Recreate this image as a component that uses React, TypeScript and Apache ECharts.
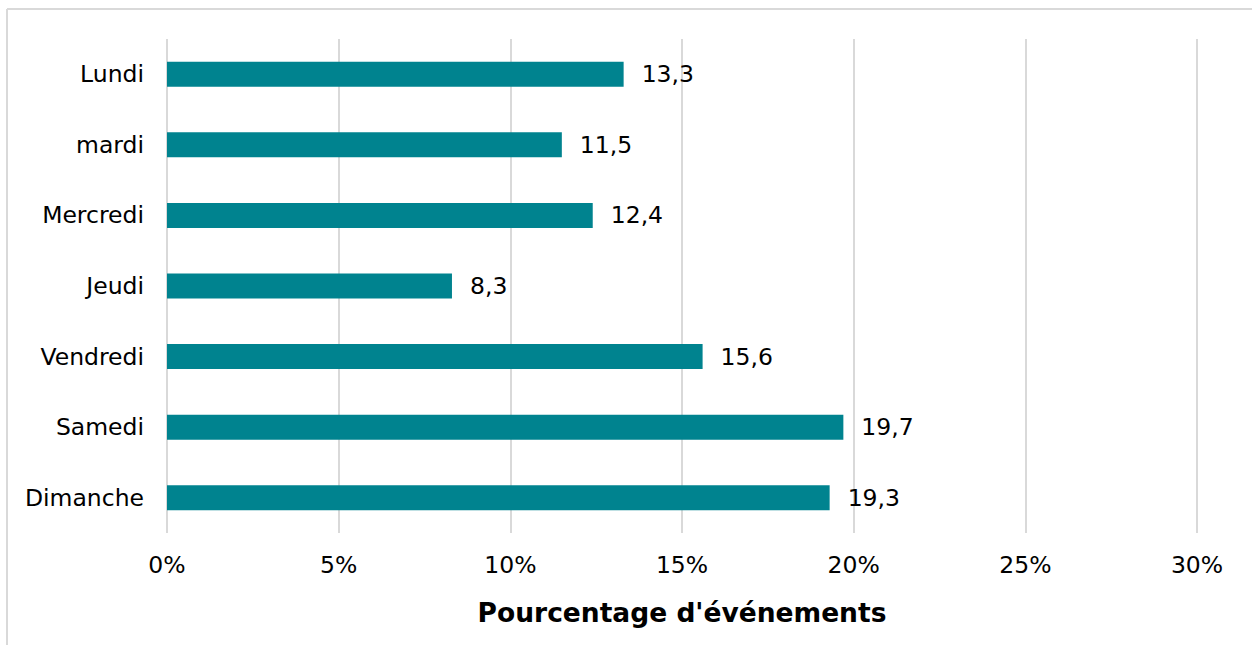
import React, { useEffect, useRef } from "react";
import * as echarts from "echarts";

const categories = ["Lundi", "mardi", "Mercredi", "Jeudi", "Vendredi", "Samedi", "Dimanche"];
const values = [13.3, 11.5, 12.4, 8.3, 15.6, 19.7, 19.3];
const axisMin = 0;
const axisMax = 30;
const axisInterval = 5;
const axisTitle = "Pourcentage d'événements";

const FONT = "DejaVu Sans, Verdana, sans-serif";

export default function App() {
  const ref = useRef<HTMLDivElement>(null);
  useEffect(() => {
    if (!ref.current) return;
    const chart = echarts.init(ref.current, undefined, { renderer: "svg" });
    chart.setOption({
      animation: false,
      backgroundColor: "#ffffff",
      textStyle: { fontFamily: FONT },
      grid: { left: 167, right: 55, top: 39, bottom: 112, containLabel: false },
      graphic: [
        { type: "line", shape: { x1: 7, y1: 9, x2: 1252, y2: 9 }, style: { stroke: "#d9d9d9", lineWidth: 2 } },
        { type: "line", shape: { x1: 7, y1: 9, x2: 7, y2: 645 }, style: { stroke: "#d9d9d9", lineWidth: 2 } },
      ],
      xAxis: {
        type: "value",
        min: axisMin,
        max: axisMax,
        interval: axisInterval,
        axisLine: { show: false },
        axisTick: { show: false },
        splitLine: { show: true, lineStyle: { color: "#d9d9d9", width: 2 } },
        axisLabel: {
          formatter: (v: number) => `${v}%`,
          color: "#000",
          fontSize: 23.5,
          fontFamily: FONT,
          margin: 20,
        },
        name: axisTitle,
        nameLocation: "middle",
        nameGap: 66,
        nameTextStyle: { color: "#000", fontSize: 26.5, fontWeight: "bold", fontFamily: FONT },
      },
      yAxis: {
        type: "category",
        data: categories,
        inverse: true,
        axisLine: { show: false },
        axisTick: { show: false },
        splitLine: { show: false },
        axisLabel: { color: "#000", fontSize: 23.5, fontFamily: FONT, margin: 23 },
      },
      series: [
        {
          type: "bar",
          data: values,
          barWidth: 25,
          itemStyle: { color: "#00838F" },
          label: {
            show: true,
            position: "right",
            distance: 18,
            color: "#000",
            fontSize: 23.5,
            fontFamily: FONT,
            formatter: (p: any) => String(p.value).replace(".", ","),
          },
        },
      ],
    });
    return () => chart.dispose();
  }, []);
  return <div ref={ref} style={{ position: "fixed", left: 0, top: 0, width: 1252, height: 645 }} />;
}
